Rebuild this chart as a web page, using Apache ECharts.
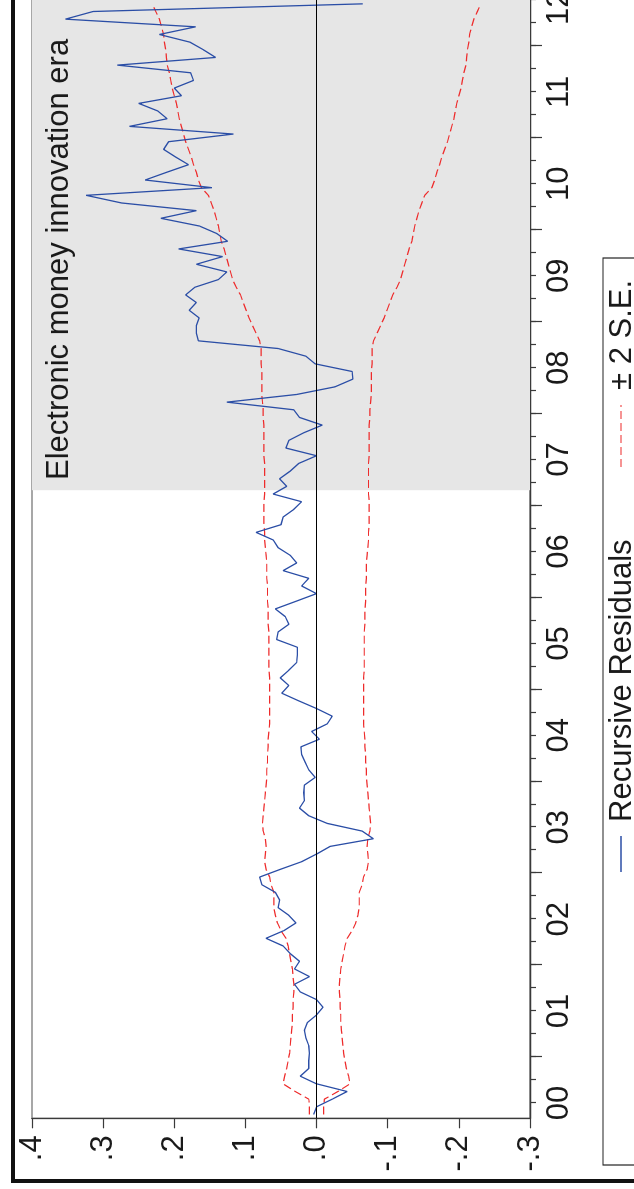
<!DOCTYPE html>
<html>
<head>
<meta charset="utf-8">
<script src="https://cdn.jsdelivr.net/npm/echarts@6/dist/echarts.min.js"></script>
<style>
  html, body { margin: 0; padding: 0; background: #fff; overflow: hidden; width: 634px; height: 1189px; }
  /* The graph is laid out landscape and turned a quarter turn counter-clockwise. */
  #wrap { position: absolute; left: 0; top: 0; width: 1189px; height: 634px;
          transform-origin: 0 0; transform: translate(0, 1189px) rotate(-90deg); }
  #chart { width: 1189px; height: 634px; }
</style>
</head>
<body>
<div id="wrap"><div id="chart"></div></div>
<script>
// Monthly sample 2000M05 - 2012M06, one value per month.
const firstYear = 2000, firstMonth = 5;

// Recursive residuals
const resid = [
  0.004, 0.000, -0.022, -0.043, 0.000, 0.023, 0.011, 0.011, 0.010, 0.011,
  0.015, 0.017, 0.013, 0.000, -0.009, 0.000, 0.023, 0.031, 0.010, 0.031,
  0.024, 0.037, 0.047, 0.071, 0.046, 0.029, 0.039, 0.054, 0.052, 0.058,
  0.077, 0.080, 0.051, 0.021, 0.000, -0.019, -0.080, -0.064, -0.015, 0.011,
  0.024, 0.017, 0.018, 0.017, 0.002, 0.011, 0.016, 0.021, 0.022, -0.004,
  0.007, -0.015, -0.022, 0.000, 0.025, 0.049, 0.039, 0.051, 0.039, 0.028,
  0.027, 0.027, 0.056, 0.054, 0.039, 0.044, 0.058, 0.029, 0.000, 0.021,
  0.011, 0.047, 0.028, 0.037, 0.054, 0.061, 0.085, 0.050, 0.047, 0.032,
  0.021, 0.061, 0.042, 0.052, 0.037, 0.025, 0.000, 0.043, 0.039, 0.018,
  -0.008, 0.024, 0.032, 0.126, 0.028, -0.026, -0.051, -0.050, 0.002, 0.015,
  0.054, 0.166, 0.169, 0.169, 0.165, 0.179, 0.169, 0.184, 0.171, 0.138,
  0.126, 0.169, 0.132, 0.194, 0.125, 0.140, 0.165, 0.219, 0.169, 0.274,
  0.324, 0.147, 0.241, 0.211, 0.180, 0.198, 0.215, 0.208, 0.117, 0.263,
  0.210, 0.223, 0.250, 0.190, 0.200, 0.173, 0.177, 0.280, 0.142, 0.159,
  0.178, 0.221, 0.170, 0.353, 0.314, -0.065
];

// Two standard errors (the band is drawn at + and - this value)
const twoSE = [
  0.010, 0.010, 0.011, 0.030, 0.047, 0.045, 0.042, 0.040, 0.038, 0.037,
  0.036, 0.035, 0.034, 0.034, 0.033, 0.033, 0.032, 0.032, 0.033, 0.034,
  0.036, 0.038, 0.040, 0.043, 0.050, 0.055, 0.058, 0.060, 0.060, 0.060,
  0.064, 0.066, 0.071, 0.073, 0.072, 0.071, 0.072, 0.075, 0.076, 0.075,
  0.074, 0.073, 0.072, 0.071, 0.070, 0.070, 0.069, 0.069, 0.068, 0.068,
  0.067, 0.066, 0.066, 0.066, 0.066, 0.066, 0.066, 0.066, 0.067, 0.067,
  0.067, 0.067, 0.067, 0.067, 0.068, 0.068, 0.068, 0.069, 0.069, 0.069,
  0.070, 0.070, 0.070, 0.071, 0.072, 0.073, 0.073, 0.074, 0.074, 0.074,
  0.074, 0.073, 0.073, 0.073, 0.073, 0.073, 0.074, 0.074, 0.074, 0.074,
  0.074, 0.075, 0.075, 0.076, 0.077, 0.077, 0.077, 0.077, 0.078, 0.078,
  0.078, 0.080, 0.085, 0.090, 0.095, 0.099, 0.103, 0.107, 0.113, 0.118,
  0.121, 0.124, 0.127, 0.130, 0.134, 0.136, 0.138, 0.141, 0.144, 0.148,
  0.152, 0.162, 0.166, 0.169, 0.173, 0.176, 0.180, 0.184, 0.187, 0.190,
  0.193, 0.195, 0.197, 0.200, 0.203, 0.205, 0.207, 0.210, 0.211, 0.212,
  0.214, 0.215, 0.218, 0.221, 0.226, 0.231
];

const yearLabels = ['00','01','02','03','04','05','06','07','08','09','10','11','12'];
const shadeFrom = '2007M03';           // start of the shaded period
const shadeText = 'Electronic money innovation era';
const legendNames = ['Recursive Residuals', '\u00B1 2 S.E.'];

// month labels for each observation
const obsMonths = resid.map((_, i) => {
  const m = firstMonth - 1 + i;
  return (firstYear + Math.floor(m / 12)) + 'M' + String(m % 12 + 1).padStart(2, '0');
});
const nObs = obsMonths.length;
const xMin = -0.5, xMax = nObs - 0.5;
const shadeStart = obsMonths.indexOf(shadeFrom) - 0.5;

// ticks at quarter boundaries, long ticks at year boundaries
const quarterTicks = [], yearTicks = [];
obsMonths.forEach((s, i) => {
  const mo = +s.slice(5);
  if ((mo - 1) % 3 === 0) quarterTicks.push(i - 0.5);
  if (mo === 1) yearTicks.push(i - 0.5);
});
quarterTicks.push(xMax);
// year labels centred on the middle of each year (kept inside the frame)
const yearLabelPos = yearLabels.map((_, k) => {
  const julIdx = obsMonths.indexOf((firstYear + k) + 'M07');
  return julIdx >= 0 ? julIdx - 0.5 : xMax - 1;
});
const posToYear = new Map(yearLabelPos.map((p, k) => [p, yearLabels[k]]));

const FONT = '"Liberation Sans", Arial, Helvetica, sans-serif';
const AX = '#3a3a3a';
const BLUE = '#2b4ea6';
const RED = '#ee2b2b';

const chart = echarts.init(document.getElementById('chart'), null, { renderer: 'canvas' });

chart.setOption({
  animation: false,
  backgroundColor: '#ffffff',
  grid: { left: 70.7, right: 0, top: 32, bottom: 104, show: true,
          containLabel: false, outerBoundsMode: 'none',
          borderColor: '#8a8a8a', borderWidth: 1.3, backgroundColor: 'transparent' },
  xAxis: [{
    type: 'value', min: xMin, max: xMax, position: 'bottom',
    axisLine: { show: true, onZero: false, lineStyle: { color: AX, width: 1.3 } },
    axisTick: { show: true, inside: false, length: 6, customValues: quarterTicks,
                lineStyle: { color: AX, width: 1.2 } },
    axisLabel: { show: true, customValues: yearLabelPos, margin: 14,
                 formatter: v => posToYear.get(v) || '',
                 color: '#1a1a1a', fontFamily: FONT, fontSize: 31 },
    splitLine: { show: false }
  }, {
    type: 'value', min: xMin, max: xMax, position: 'bottom',
    axisLine: { show: false, onZero: false },
    axisTick: { show: true, inside: false, length: 12, customValues: yearTicks,
                lineStyle: { color: AX, width: 1.2 } },
    axisLabel: { show: false },
    splitLine: { show: false }
  }],
  yAxis: {
    type: 'value', min: -0.3, max: 0.4, interval: 0.1,
    axisLine: { show: true, onZero: false, lineStyle: { color: AX, width: 1.3 } },
    axisTick: { show: true, inside: false, length: 10, lineStyle: { color: AX, width: 1.2 } },
    axisLabel: { margin: 17, color: '#1a1a1a', fontFamily: FONT, fontSize: 31,
                 formatter: v => { const s = (+v).toFixed(1); return s === '-0.0' ? '.0' : s.replace('0.', '.'); } },
    splitLine: { show: false }
  },
  series: [{
    name: 'shade', type: 'line', data: [], silent: true,
    markArea: { silent: true, itemStyle: { color: '#e6e6e6' },
                data: [[{ xAxis: shadeStart }, { xAxis: xMax }]] }
  }, {
    name: legendNames[1], type: 'line', symbol: 'none', z: 3,
    data: twoSE.map((v, i) => [i, v]),
    lineStyle: { color: RED, width: 1.2, type: [8, 4] }
  }, {
    name: legendNames[1], type: 'line', symbol: 'none', z: 3,
    data: twoSE.map((v, i) => [i, -v]),
    lineStyle: { color: RED, width: 1.2, type: [8, 4] }
  }, {
    name: legendNames[0], type: 'line', symbol: 'none', z: 4,
    data: resid.map((v, i) => [i, v]),
    lineStyle: { color: BLUE, width: 1.3 },
    markLine: { silent: true, symbol: 'none', label: { show: false },
                lineStyle: { color: '#000', width: 1.2, type: 'solid' },
                data: [{ yAxis: 0 }] }
  }],
  graphic: [
    // outer border of the figure
    { type: 'rect', z: 100, shape: { x: 8, y: 13, width: 1400, height: 900 },
      style: { fill: null, stroke: '#111', lineWidth: 4 }, silent: true },
    { type: 'text', z: 100, x: 709, y: 59,
      style: { text: shadeText, font: '31px ' + FONT, fill: '#1a1a1a', verticalAlign: 'middle' } },
    // legend
    { type: 'rect', z: 100, shape: { x: 24, y: 603, width: 907, height: 120 },
      style: { fill: '#fff', stroke: '#222', lineWidth: 1.2 } },
    { type: 'line', z: 101, shape: { x1: 317, y1: 621, x2: 353, y2: 621 },
      style: { stroke: BLUE, lineWidth: 1.3 } },
    { type: 'text', z: 101, x: 367, y: 622,
      style: { text: legendNames[0], font: '31px ' + FONT, fill: '#1a1a1a', verticalAlign: 'middle' } },
    { type: 'line', z: 101, shape: { x1: 722, y1: 621, x2: 784, y2: 621 },
      style: { stroke: RED, lineWidth: 1.2, lineDash: [8, 4] } },
    { type: 'text', z: 101, x: 799, y: 622,
      style: { text: legendNames[1], font: '31px ' + FONT, fill: '#1a1a1a', verticalAlign: 'middle' } }
  ]
});
</script>
</body>
</html>
